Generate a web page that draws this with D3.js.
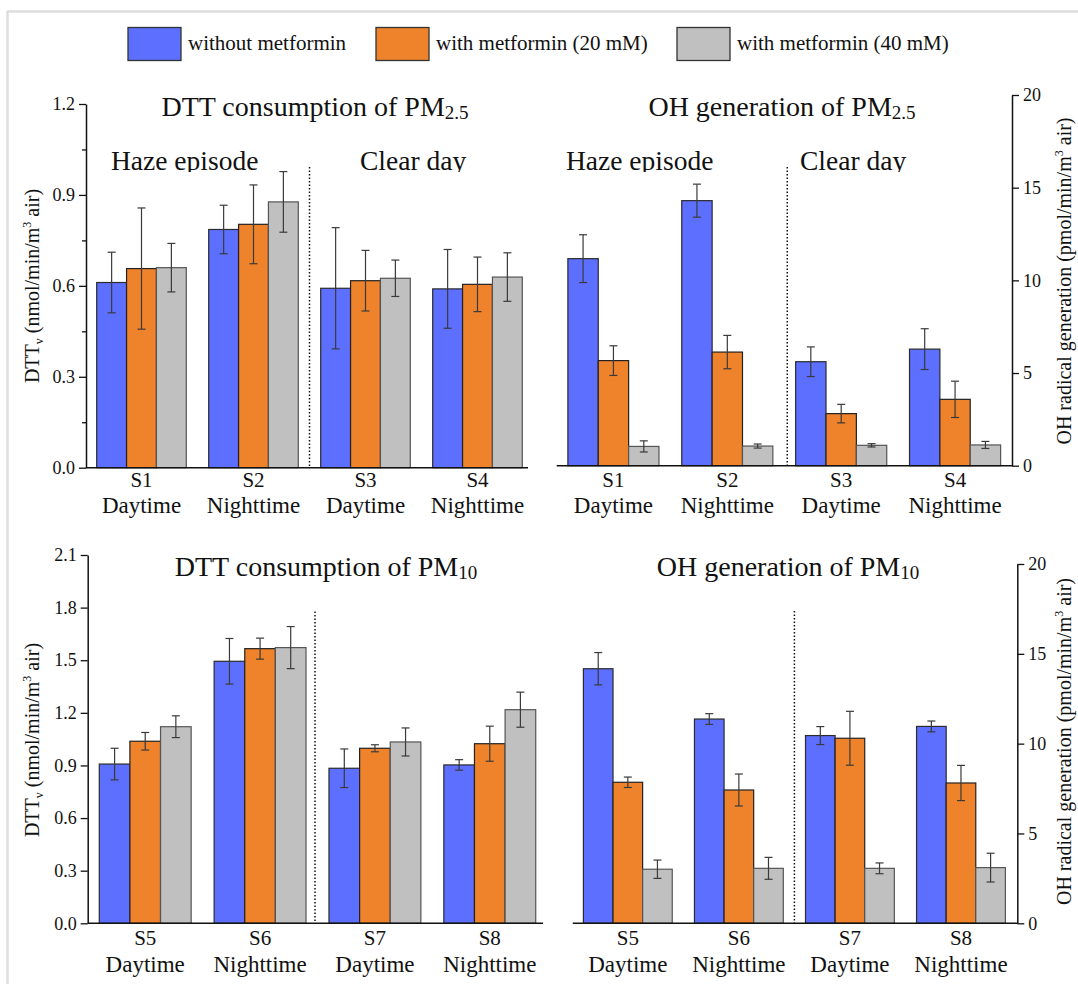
<!DOCTYPE html>
<html>
<head>
<meta charset="utf-8">
<script src="https://cdn.jsdelivr.net/npm/d3@7"></script>
<style>
  body { margin: 0; background: #fff; }
  svg text { font-family: "Liberation Serif", "Times New Roman", serif; fill: #111; }
</style>
</head>
<body>
<div class="chart"></div>
<script>
// categories / labels
const topSamples = ["S1", "S2", "S3", "S4"];
const bottomSamples = ["S5", "S6", "S7", "S8"];
const timeLabels = ["Daytime", "Nighttime", "Daytime", "Nighttime"];
const seriesNames = ["without metformin", "with metformin (20 mM)", "with metformin (40 mM)"];
const seriesColors = ["#5d6fff", "#ee832b", "#c0c0c0"];
const seriesStroke = ["#2b2b2b", "#222222", "#555555"];

// values: one row per series (without, 20 mM, 40 mM), one column per sample
const dtt25 = [[0.611, 0.786, 0.592, 0.590], [0.657, 0.803, 0.617, 0.605], [0.660, 0.877, 0.625, 0.629]];
const dtt25Err = [[0.10, 0.08, 0.20, 0.13], [0.20, 0.13, 0.10, 0.09], [0.08, 0.10, 0.06, 0.08]];
const oh25 = [[11.17, 14.30, 5.61, 6.29], [5.67, 6.13, 2.81, 3.58], [1.04, 1.06, 1.10, 1.12]];
const oh25Err = [[1.29, 0.89, 0.80, 1.10], [0.80, 0.90, 0.50, 0.98], [0.30, 0.11, 0.09, 0.19]];
const dtt10 = [[0.908, 1.494, 0.884, 0.903], [1.038, 1.566, 0.998, 1.024], [1.121, 1.572, 1.034, 1.218]];
const dtt10Err = [[0.09, 0.13, 0.11, 0.03], [0.05, 0.06, 0.02, 0.10], [0.062, 0.12, 0.08, 0.10]];
const oh10 = [[14.17, 11.37, 10.45, 10.96], [7.85, 7.42, 10.30, 7.81], [3.01, 3.06, 3.06, 3.10]];
const oh10Err = [[0.90, 0.30, 0.50, 0.30], [0.29, 0.89, 1.50, 0.98], [0.51, 0.61, 0.30, 0.80]];

const dttTicks25 = [0, 0.3, 0.6, 0.9, 1.2];
const dttMinor25 = [0.15, 0.45, 0.75, 1.05];
const dttTicks10 = [0, 0.3, 0.6, 0.9, 1.2, 1.5, 1.8, 2.1];
const ohTicks = [0, 5, 10, 15, 20];

const w = 1078;
const h = 984;

const svg = d3.select(".chart")
  .append("svg")
  .attr("width", w)
  .attr("height", h);

// light frame
svg.append("line").attr("x1", 7).attr("x2", w).attr("y1", 11.5).attr("y2", 11.5)
  .attr("stroke", "#dedede").attr("stroke-width", 2.5);
svg.append("line").attr("x1", 7.5).attr("x2", 7.5).attr("y1", 11).attr("y2", h)
  .attr("stroke", "#dedede").attr("stroke-width", 2.5);

// legend
const legendX = [128, 376, 677];
seriesNames.forEach(function(name, i) {
  svg.append("rect")
    .attr("x", legendX[i]).attr("y", 27.5)
    .attr("width", 53).attr("height", 33)
    .attr("fill", seriesColors[i]).attr("stroke", "#333").attr("stroke-width", 1.3);
  svg.append("text")
    .attr("x", legendX[i] + 60).attr("y", 50)
    .attr("font-size", 21)
    .text(name);
});

const panels = [
  { samples: topSamples, values: dtt25, errs: dtt25Err, domain: [0, 1.2], ticks: dttTicks25, minor: dttMinor25,
    fmt: d3.format(".1f"), side: "left", axisX: 86, yRange: [467.7, 104], band: [85.5, 533.5], xEnd: 528,
    title: "DTT consumption of ", sub: "2.5", titleX: 315, titleY: 116, labelY: 487, timeY: 513,
    regions: [[111, "Haze episode"], [360, "Clear day"]], regionY: 170, dotTop: 167, dotShift: 0, yLabelPos: [39, 286] },
  { samples: topSamples, values: oh25, errs: oh25Err, domain: [0, 20], ticks: ohTicks, minor: [],
    fmt: d3.format("d"), side: "right", axisX: 1012, yRange: [465.7, 95], band: [556.5, 1012], xEnd: 556.7,
    title: "OH generation of ", sub: "2.5", titleX: 782, titleY: 116, labelY: 487, timeY: 513,
    regions: [[566, "Haze episode"], [800, "Clear day"]], regionY: 170, dotTop: 167, dotShift: 3, yLabelPos: [1071, 281] },
  { samples: bottomSamples, values: dtt10, errs: dtt10Err, domain: [0, 2.1], ticks: dttTicks10, minor: [],
    fmt: d3.format(".1f"), side: "left", axisX: 87.7, yRange: [923.3, 555], band: [87.8, 547.2], xEnd: 543,
    title: "DTT consumption of ", sub: "10", titleX: 326, titleY: 576, labelY: 945, timeY: 972,
    regions: [], regionY: 0, dotTop: 611.5, dotShift: -2.5, yLabelPos: [39, 740] },
  { samples: bottomSamples, values: oh10, errs: oh10Err, domain: [0, 20], ticks: ohTicks, minor: [],
    fmt: d3.format("d"), side: "right", axisX: 1017.3, yRange: [923.3, 564], band: [572.3, 1016.5], xEnd: 572.7,
    title: "OH generation of ", sub: "10", titleX: 788, titleY: 576, labelY: 945, timeY: 972,
    regions: [], regionY: 0, dotTop: 611, dotShift: 0, yLabelPos: [1071, 741.5] }
];

const drawPanel = function(p, idx) {
  const g = svg.append("g");
  const x = d3.scaleBand().domain(p.samples).range(p.band).paddingInner(0.2).paddingOuter(0.1);
  const xs = d3.scaleBand().domain([0, 1, 2]).range([0, x.bandwidth()]);
  const y = d3.scaleLinear().domain(p.domain).range(p.yRange);

  // bars
  p.values.forEach(function(row, s) {
    g.selectAll(".bar" + s)
      .data(row)
      .enter()
      .append("rect")
      .attr("x", function(d, i) { return x(p.samples[i]) + xs(s); })
      .attr("y", function(d) { return y(d); })
      .attr("width", xs.bandwidth())
      .attr("height", function(d) { return y(0) - y(d); })
      .attr("fill", seriesColors[s])
      .attr("stroke", seriesStroke[s])
      .attr("stroke-width", 1.2);
  });

  // error bars
  p.values.forEach(function(row, s) {
    row.forEach(function(d, i) {
      const cx = x(p.samples[i]) + xs(s) + xs.bandwidth() / 2;
      const e = p.errs[s][i];
      const eg = g.append("g").attr("stroke", "#3a3a3a").attr("stroke-width", 1.2);
      eg.append("line").attr("x1", cx).attr("x2", cx).attr("y1", y(d + e)).attr("y2", y(d - e));
      eg.append("line").attr("x1", cx - 4).attr("x2", cx + 4).attr("y1", y(d + e)).attr("y2", y(d + e));
      eg.append("line").attr("x1", cx - 4).attr("x2", cx + 4).attr("y1", y(d - e)).attr("y2", y(d - e));
    });
  });

  // y axis
  const axis = (p.side === "left" ? d3.axisLeft(y) : d3.axisRight(y))
    .tickValues(p.ticks).tickFormat(p.fmt).tickSize(7).tickPadding(4).tickSizeOuter(0);
  const ag = g.append("g").attr("transform", "translate(" + p.axisX + ",0)").call(axis);
  ag.select(".domain").attr("stroke", "#111").attr("stroke-width", 1.5);
  ag.selectAll(".tick line").attr("stroke", "#111").attr("stroke-width", 1.3);
  ag.selectAll(".tick text").attr("font-size", 18).attr("fill", "#222");
  if (p.minor.length) {
    const mg = g.append("g").attr("transform", "translate(" + p.axisX + ",0)")
      .call(d3.axisLeft(y).tickValues(p.minor).tickFormat("").tickSize(4).tickSizeOuter(0));
    mg.select(".domain").remove();
    mg.selectAll(".tick line").attr("stroke", "#111").attr("stroke-width", 1.3);
  }

  // x axis line
  g.append("line")
    .attr("x1", p.axisX).attr("x2", p.xEnd)
    .attr("y1", y(0)).attr("y2", y(0))
    .attr("stroke", "#111").attr("stroke-width", 1.5);

  // x labels
  p.samples.forEach(function(s, i) {
    const cx = x(s) + x.bandwidth() / 2;
    g.append("text").attr("x", cx).attr("y", p.labelY)
      .attr("text-anchor", "middle").attr("font-size", 21).text(s);
    g.append("text").attr("x", cx).attr("y", p.timeY)
      .attr("text-anchor", "middle").attr("font-size", 23).text(timeLabels[i]);
  });

  // dotted divider between haze and clear days
  const dx = (x(p.samples[1]) + x.bandwidth() + x(p.samples[2])) / 2 + p.dotShift;
  g.append("line")
    .attr("x1", dx).attr("x2", dx).attr("y1", p.dotTop).attr("y2", y(0))
    .attr("stroke", "#111").attr("stroke-width", 1.5).attr("stroke-dasharray", "1.5,2");

  // title
  const t = g.append("text").attr("x", p.titleX).attr("y", p.titleY)
    .attr("text-anchor", "middle").attr("font-size", 28);
  t.append("tspan").text(p.title + "PM");
  t.append("tspan").attr("font-size", 19).attr("dy", 3).text(p.sub);

  // region labels, clipped at the bottom like the original
  if (p.regions.length) {
    const clipId = "clip" + idx;
    svg.append("clipPath").attr("id", clipId)
      .append("rect").attr("x", 0).attr("y", p.regionY - 40).attr("width", w).attr("height", 42);
    p.regions.forEach(function(r) {
      g.append("text").attr("x", r[0]).attr("y", p.regionY)
        .attr("font-size", 27.5).attr("clip-path", "url(#" + clipId + ")").text(r[1]);
    });
  }

  // y axis title
  const lt = g.append("text")
    .attr("transform", "translate(" + p.yLabelPos[0] + "," + p.yLabelPos[1] + ") rotate(-90)")
    .attr("text-anchor", "middle").attr("font-size", 20);
  if (p.side === "left") {
    lt.append("tspan").text("DTT");
    lt.append("tspan").attr("font-size", 12).attr("dy", 4).text("v");
    lt.append("tspan").attr("dy", -4).text(" (nmol/min/m");
    lt.append("tspan").attr("font-size", 12).attr("dy", -8).text("3");
    lt.append("tspan").attr("dy", 8).text(" air)");
  } else {
    lt.append("tspan").text("OH radical generation (pmol/min/m");
    lt.append("tspan").attr("font-size", 12).attr("dy", -8).text("3");
    lt.append("tspan").attr("dy", 8).text(" air)");
  }
};

panels.forEach(drawPanel);
</script>
</body>
</html>
